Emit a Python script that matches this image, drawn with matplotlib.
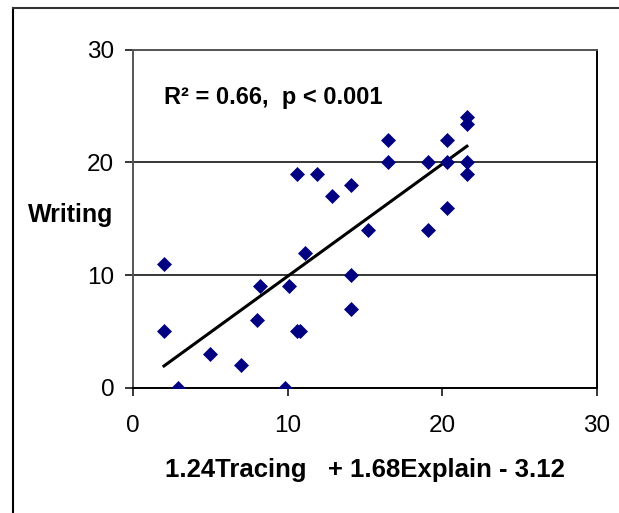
import numpy as np
import matplotlib
matplotlib.use("Agg")
import matplotlib.pyplot as plt
from matplotlib.lines import Line2D

plt.rcParams['font.family'] = ['Liberation Sans', 'DejaVu Sans']

# predicted score (x) vs writing score (y)
predicted = [2.0, 2.0, 2.9, 5.0, 7.0, 8.0, 8.2, 9.8, 10.1, 10.6, 10.6, 10.8,
             11.1, 11.9, 12.9, 14.1, 14.1, 14.1, 15.2, 16.5, 16.5, 19.1, 19.1,
             20.3, 20.3, 20.3, 21.6, 21.6, 21.6, 21.6]
writing = [11, 5, 0, 3, 2, 6, 9, 0, 9, 19, 5, 5,
           12, 19, 17, 18, 10, 7, 14, 22, 20, 20, 14,
           22, 20, 16, 24, 23.4, 20, 19]

# trend line as drawn in the chart
trend_slope = 0.995
trend_intercept = -0.05

x_ticks = [0, 10, 20, 30]
y_ticks = [0, 10, 20, 30]
stats_label = "R\u00b2 = 0.66,  p < 0.001"
x_label = "1.24Tracing   + 1.68Explain - 3.12"
y_label = "Writing"

fig = plt.figure(figsize=(6.19, 5.13), dpi=100)
ax = fig.add_axes([0.215, 0.244, 0.749, 0.659])

x = np.array(predicted)
y = np.array(writing)

xs = np.array([x.min(), x.max()])
ax.plot(xs, trend_slope * xs + trend_intercept, color='black', lw=2.2, zorder=3)

ax.plot(x, y, linestyle='none', marker='D', ms=6.8, color='#000080',
        mec='#000080', mew=0.5, zorder=4)

ax.set_xlim(0, 30)
ax.set_ylim(0, 30)
ax.set_xticks(x_ticks)
ax.set_yticks(y_ticks)
ax.tick_params(axis='both', direction='out', length=5.5, width=1.1,
               labelsize=17.5, color='black')
ax.tick_params(axis='x', pad=14)
ax.tick_params(axis='y', pad=8)

ax.grid(axis='y', color='black', lw=1.1)
ax.set_axisbelow(True)

for side in ['left', 'top']:
    ax.spines[side].set_color('#555555')
    ax.spines[side].set_linewidth(1.4)
for side in ['right', 'bottom']:
    ax.spines[side].set_color('black')
    ax.spines[side].set_linewidth(1.4)

ax.text(2.0, 25.8, stats_label, fontsize=17, fontweight='bold', va='center',
        ha='left')

ax.set_xlabel(x_label, fontsize=18.5, fontweight='bold')
ax.xaxis.set_label_coords(0.5, -0.243)
ax.xaxis.label.set_va('center')
ax.set_ylabel(y_label, fontsize=18, fontweight='bold', rotation=0,
              ha='center', va='center')
ax.yaxis.set_label_coords(-0.134, 0.51)

# outer chart frame (only left and top edges are visible)
fig.add_artist(Line2D([12.5 / 619, 12.5 / 619], [0, 1 - 7.5 / 513],
                      transform=fig.transFigure, color='black', lw=1.5))
fig.add_artist(Line2D([12.5 / 619, 1], [1 - 7.5 / 513, 1 - 7.5 / 513],
                      transform=fig.transFigure, color='#333333', lw=1.5))

fig.savefig("out.png", dpi=100)
